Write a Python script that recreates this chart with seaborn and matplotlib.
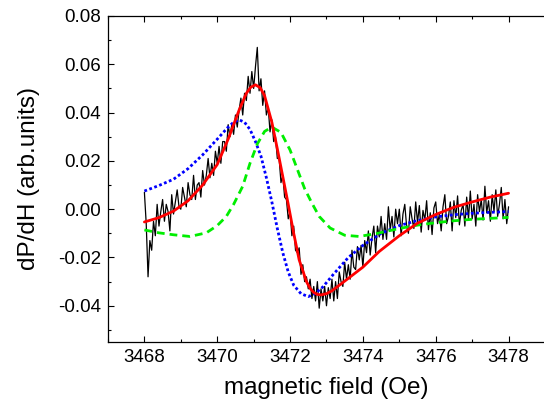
import numpy as np
import pandas as pd
import seaborn as sns
import matplotlib.pyplot as plt
from matplotlib.ticker import MultipleLocator

# measured derivative signal, field sampled evenly from 3468 to 3478 Oe
dpdh = [
    0.007, -0.006, -0.028, -0.013, -0.017, -0.005, -0.011, 0.002, -0.007, -0.001,
    0.004, -0.005, 0.002, -0.001, -0.009, 0.006, -0.002, 0.003, 0.008, 0.001,
    0.000, 0.009, 0.005, 0.001, 0.011, 0.006, 0.004, 0.014, 0.004, 0.010,
    0.011, 0.005, 0.016, 0.010, 0.014, 0.021, 0.013, 0.019, 0.014, 0.024,
    0.019, 0.026, 0.019, 0.028, 0.028, 0.024, 0.035, 0.030, 0.035, 0.031,
    0.039, 0.034, 0.041, 0.046, 0.039, 0.048, 0.045, 0.055, 0.048, 0.057,
    0.050, 0.059, 0.067, 0.049, 0.054, 0.043, 0.049, 0.039, 0.042, 0.032,
    0.037, 0.028, 0.030, 0.021, 0.021, 0.011, 0.014, 0.005, 0.004, -0.004,
    -0.001, -0.011, -0.007, -0.017, -0.018, -0.016, -0.027, -0.023, -0.030, -0.028,
    -0.033, -0.029, -0.037, -0.032, -0.038, -0.030, -0.041, -0.033, -0.038, -0.032,
    -0.040, -0.0325, -0.037, -0.029, -0.038, -0.030, -0.037, -0.026, -0.030, -0.032,
    -0.022, -0.029, -0.023, -0.029, -0.017, -0.024, -0.025, -0.0155, -0.021, -0.015,
    -0.024, -0.013, -0.018, -0.009, -0.019, -0.012, -0.007, -0.018, -0.007, -0.0115,
    -0.003, -0.0125, -0.006, -0.0125, 0.001, -0.0085, -0.003, -0.0115, 0.000, -0.006,
    0.000, -0.011, -0.002, 0.002, -0.007, -0.010, 0.001, -0.004, -0.008, 0.003,
    -0.0055, 0.0015, -0.0095, -0.0005, -0.0045, 0.0035, -0.0085, -0.0015, -0.0105, 0.0005,
    0.003, -0.006, -0.002, -0.009, 0.001, 0.006, -0.006, -0.003, 0.003, -0.009,
    0.0035, -0.0035, 0.0055, -0.0065, -0.0005, 0.002, -0.007, 0.005, -0.004, 0.0075,
    -0.004, 0.002, -0.007, 0.006, -0.001, 0.004, -0.0045, 0.0095, -0.0015, 0.0035,
    -0.005, 0.006, -0.001, 0.008, -0.003, 0.002, 0.009, -0.004, 0.004, -0.006,
    0.001,
]
field = np.linspace(3468, 3478, len(dpdh))

# total fit (red)
fit_x = [3468.0, 3468.4, 3468.8, 3469.2, 3469.6, 3470.0, 3470.3, 3470.6, 3470.8, 3470.92,
         3471.05, 3471.18, 3471.3, 3471.5, 3471.65, 3471.8, 3471.95, 3472.1, 3472.25, 3472.45,
         3472.55, 3472.65, 3472.75, 3472.85, 3473.0, 3473.15, 3473.5, 3474.0, 3474.45, 3475.0,
         3475.5, 3476.0, 3476.5, 3477.0, 3477.5, 3478.0]
fit_y = [-0.0053, -0.0035, -0.0008, 0.0035, 0.0100, 0.0185, 0.0290, 0.0410, 0.0480, 0.0505,
         0.0515, 0.0503, 0.0470, 0.0360, 0.0250, 0.0135, 0.0020, -0.0100, -0.0210, -0.0300,
         -0.0328, -0.0345, -0.0353, -0.0355, -0.0350, -0.0338, -0.0298, -0.0240, -0.0175, -0.0110,
         -0.0058, -0.0022, 0.0008, 0.0030, 0.0050, 0.0066]

# first component (blue)
comp1_x = [3468.0, 3468.4, 3468.8, 3469.2, 3469.6, 3470.0, 3470.3, 3470.45, 3470.6, 3470.75,
           3470.9, 3471.05, 3471.2, 3471.35, 3471.5, 3471.65, 3471.8, 3471.95, 3472.1, 3472.3,
           3472.5, 3472.7, 3472.9, 3473.2, 3473.6, 3474.0, 3474.5, 3475.0, 3475.5, 3476.0,
           3476.5, 3477.0, 3477.5, 3478.0]
comp1_y = [0.0075, 0.0098, 0.0124, 0.0168, 0.0225, 0.0290, 0.0340, 0.0360, 0.0370, 0.0360,
           0.0330, 0.0280, 0.0220, 0.0130, 0.0030, -0.0080, -0.0180, -0.0260, -0.0315, -0.0350,
           -0.0362, -0.0348, -0.0322, -0.0268, -0.0200, -0.0150, -0.0100, -0.0068, -0.0047, -0.0032,
           -0.0023, -0.0017, -0.0013, -0.0010]

# second component (green)
comp2_x = [3468.0, 3468.4, 3468.8, 3469.25, 3469.7, 3470.0, 3470.25, 3470.45, 3470.7, 3470.9,
           3471.1, 3471.3, 3471.5, 3471.75, 3472.0, 3472.2, 3472.4, 3472.6, 3472.8, 3473.1,
           3473.5, 3473.9, 3474.4, 3475.0, 3475.5, 3476.0, 3476.5, 3477.0, 3477.5, 3478.0]
comp2_y = [-0.0086, -0.0098, -0.0106, -0.0113, -0.0098, -0.0068, -0.0030, 0.0020, 0.0095, 0.0190,
           0.0270, 0.0322, 0.0340, 0.0318, 0.0245, 0.0165, 0.0085, 0.0025, -0.0030, -0.0078,
           -0.0108, -0.0113, -0.0100, -0.0080, -0.0066, -0.0056, -0.0048, -0.0042, -0.0038, -0.0034]

sns.set_style("ticks")
plt.rcParams['font.family'] = ['Liberation Sans', 'DejaVu Sans']
plt.rcParams['text.color'] = 'black'
plt.rcParams['axes.labelcolor'] = 'black'
plt.rcParams['xtick.color'] = 'black'
plt.rcParams['ytick.color'] = 'black'
plt.rcParams['axes.edgecolor'] = 'black'

fig = plt.figure(figsize=(5.44, 4.04), dpi=100)
ax = fig.add_axes([0.1985, 0.1535, 0.8033, 0.8069])

sns.lineplot(x=field, y=dpdh, color="black", lw=0.9, estimator=None, sort=False, ax=ax)
sns.lineplot(x=comp1_x, y=comp1_y, color="#0000ff", lw=2.0, linestyle=(0, (1, 0.9)),
             estimator=None, sort=False, ax=ax)
sns.lineplot(x=comp2_x, y=comp2_y, color="#00ee00", lw=2.0, linestyle=(0, (2.8, 1.8)),
             estimator=None, sort=False, ax=ax)
sns.lineplot(x=fit_x, y=fit_y, color="#ff0000", lw=2.0, estimator=None, sort=False, ax=ax)

ax.set_xlim(3467, 3479)
ax.set_ylim(-0.055, 0.08)
ax.set_xticks([3468, 3470, 3472, 3474, 3476, 3478])
ax.set_yticks([-0.04, -0.02, 0.00, 0.02, 0.04, 0.06, 0.08])
ax.set_yticklabels(["-0.04", "-0.02", "0.00", "0.02", "0.04", "0.06", "0.08"])
ax.xaxis.set_minor_locator(MultipleLocator(1))
ax.yaxis.set_minor_locator(MultipleLocator(0.01))
ax.tick_params(which="both", direction="in", top=True, right=False, labelsize=13.5, pad=5)
ax.tick_params(which="major", length=4.5, width=0.8)
ax.tick_params(which="minor", length=2.5, width=0.8)
for side in ["left", "bottom", "top"]:
    ax.spines[side].set_linewidth(0.9)
ax.spines["right"].set_visible(False)

ax.set_xlabel("magnetic field (Oe)", fontsize=17.5, labelpad=8)
ax.set_ylabel("dP/dH (arb.units)", fontsize=17.5, labelpad=13)

fig.savefig("out.png", dpi=100)
